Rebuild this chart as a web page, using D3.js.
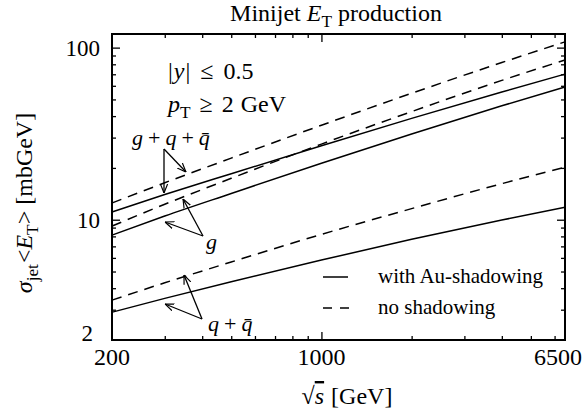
<!DOCTYPE html>
<html>
<head>
<meta charset="utf-8">
<script src="https://cdn.jsdelivr.net/npm/d3@7"></script>
<style>
  body { margin: 0; background: #fff; }
  text { font-family: "Liberation Serif", "DejaVu Serif", serif; fill: #000; }
</style>
</head>
<body>
<div id="chart"></div>
<script>
// sqrt(s) points in GeV
const roots = [200, 300, 500, 1000, 2000, 4000, 6500];

// sigma_jet <E_T> in mbGeV
const allNoShadow = [12.5, 16.4, 22.8, 35.4, 54.3, 81.9, 108];
const allShadow   = [11.1, 14.0, 18.5, 26.9, 38.8, 55.2, 70.2];
const gNoShadow   = [9.18, 12.3, 17.4, 27.5, 42.5, 64.5, 84.7];
const gShadow     = [8.14, 10.5, 14.2, 21.3, 31.5, 45.9, 59.0];
const qNoShadow   = [3.41, 4.30, 5.68, 8.22, 11.6, 16.2, 20.2];
const qShadow     = [2.90, 3.49, 4.36, 5.83, 7.69, 9.96, 11.8];

const xMajor = [200, 1000, 6500];
const xMinor = [300, 400, 500, 600, 700, 800, 900, 2000, 3000, 4000, 5000, 6000];
const yMajor = [2, 10, 100];
const yMinor = [3, 4, 5, 6, 7, 8, 9, 20, 30, 40, 50, 60, 70, 80, 90];

const W = 584, H = 415;
const mLeft = 112, mRight = 565, mTop = 34, mBottom = 340;

const svg = d3.select("#chart").append("svg")
  .attr("width", W).attr("height", H);

const x = d3.scaleLog().domain([200, 6500]).range([mLeft, mRight]);
const y = d3.scaleLog().domain([2, 120]).range([mBottom, mTop]);

// ticks, inside, on all four sides
function tickSet(axisFn, scale, vals, len, tx) {
  svg.append("g")
    .attr("transform", tx)
    .call(axisFn(scale).tickValues(vals).tickSize(len).tickFormat(""))
    .call(g => g.select(".domain").remove())
    .selectAll("line").attr("stroke", "#000").attr("stroke-width", 1.3);
}
tickSet(d3.axisTop, x, xMajor.slice(1, 2), 8, `translate(0,${mBottom})`);
tickSet(d3.axisTop, x, xMinor, 4, `translate(0,${mBottom})`);
tickSet(d3.axisBottom, x, xMajor.slice(1, 2), 8, `translate(0,${mTop})`);
tickSet(d3.axisBottom, x, xMinor, 4, `translate(0,${mTop})`);
tickSet(d3.axisRight, y, [10, 100], 8, `translate(${mLeft},0)`);
tickSet(d3.axisRight, y, yMinor, 4, `translate(${mLeft},0)`);
tickSet(d3.axisLeft, y, [10, 100], 8, `translate(${mRight},0)`);
tickSet(d3.axisLeft, y, yMinor, 4, `translate(${mRight},0)`);

// frame
svg.append("rect")
  .attr("x", mLeft).attr("y", mTop)
  .attr("width", mRight - mLeft).attr("height", mBottom - mTop)
  .attr("fill", "none").attr("stroke", "#000").attr("stroke-width", 2);

// tick labels
svg.selectAll(".xl").data(xMajor).enter().append("text")
  .attr("x", (d, i) => i == 2 ? 582 : x(d))
  .attr("y", 365)
  .attr("text-anchor", (d, i) => i == 2 ? "end" : "middle")
  .style("font-size", "24px")
  .text(d => d);
svg.selectAll(".yl").data(yMajor).enter().append("text")
  .attr("x", (d, i) => i == 0 ? 93 : 100)
  .attr("y", (d, i) => i == 0 ? 341 : y(d) + 8)
  .attr("text-anchor", "end")
  .style("font-size", "23px")
  .text(d => d);

// curves
const line = d3.line()
  .x((d, i) => x(roots[i]))
  .y(d => y(d))
  .curve(d3.curveMonotoneX);

const series = [
  { v: allNoShadow, dash: true },
  { v: allShadow, dash: false },
  { v: gNoShadow, dash: true },
  { v: gShadow, dash: false },
  { v: qNoShadow, dash: true },
  { v: qShadow, dash: false }
];
svg.selectAll(".curve").data(series).enter().append("path")
  .attr("d", d => line(d.v))
  .attr("fill", "none")
  .attr("stroke", "#000")
  .attr("stroke-width", 1.5)
  .attr("stroke-dasharray", d => d.dash ? "10,7" : null);

// arrows
svg.append("defs").append("marker")
  .attr("id", "ah").attr("viewBox", "0 0 10 10")
  .attr("refX", 10).attr("refY", 5)
  .attr("markerWidth", 9).attr("markerHeight", 9)
  .attr("markerUnits", "userSpaceOnUse")
  .attr("orient", "auto")
  .append("path").attr("d", "M0,1 L10,5 L0,9").attr("fill", "none")
  .attr("stroke", "#000").attr("stroke-width", 1.3);

const arrows = [
  [164, 149, 164, 193], [164, 149, 186, 172],
  [203, 236, 183, 199], [203, 236, 165, 222],
  [202, 319, 165, 304], [202, 319, 184, 275]
];
svg.selectAll(".arr").data(arrows).enter().append("line")
  .attr("x1", d => d[0]).attr("y1", d => d[1])
  .attr("x2", d => d[2]).attr("y2", d => d[3])
  .attr("stroke", "#000").attr("stroke-width", 1.3)
  .attr("marker-end", "url(#ah)");

// text helper: parts = [text, style, dx] where style: r roman, i italic, s subscript, o overline
function rich(px, py, parts, size, anchor, rot) {
  const t = svg.append("text")
    .attr("x", px).attr("y", py)
    .attr("text-anchor", anchor || "start")
    .style("font-size", size + "px");
  if (rot) t.attr("transform", `rotate(${rot},${px},${py})`);
  let sub = false;
  parts.forEach(([s, st, dx]) => {
    const sp = t.append("tspan").text(s);
    if (dx) sp.attr("dx", dx);
    if (st.includes("i")) sp.style("font-style", "italic");
    if (st.includes("o")) sp.style("text-decoration", "overline");
    if (st.includes("s")) {
      sp.style("font-size", (size * 0.72) + "px");
      if (!sub) sp.attr("dy", size * 0.25);
      sub = true;
    } else if (sub) {
      sp.attr("dy", -size * 0.25);
      sub = false;
    }
  });
  return t;
}

rich(336, 21, [["Minijet ", "r"], ["E", "i"], ["T", "s"], [" production", "r"]], 24, "middle");
rich(168, 79, [["|", "r"], ["y", "i", 1], ["|", "r", 1], ["\u2264", "r", 10], ["0.5", "r", 10]], 24);
rich(168, 112, [["p", "i"], ["T", "s"], ["\u2265", "r", 9], ["2", "r", 9], ["GeV", "r", 7]], 24);
rich(132, 145, [["g", "i"], ["+", "r", 5], ["q", "i", 5], ["+", "r", 5], ["q\u0304", "i", 5]], 22);
rich(206, 249, [["g", "i"]], 22);
rich(208, 331, [["q", "i"], ["+", "r", 5], ["q\u0304", "i", 5]], 22);

rich(32, 203, [["\u03c3", "i"], ["jet", "s"], ["<", "r", 1], ["E", "i"], ["T", "s"], [">", "r"], ["[mbGeV]", "r", 6]], 24, "middle", -90);
rich(347, 404, [["\u221a", "r"], ["s", "io"], ["[GeV]", "r", 7]], 24, "middle");

// legend
svg.append("line").attr("x1", 323).attr("x2", 348).attr("y1", 277).attr("y2", 277)
  .attr("stroke", "#000").attr("stroke-width", 1.5);
svg.append("line").attr("x1", 323).attr("x2", 350).attr("y1", 308).attr("y2", 308)
  .attr("stroke", "#000").attr("stroke-width", 1.5).attr("stroke-dasharray", "9,8");
rich(378, 283, [["with Au-shadowing", "r"]], 21);
rich(378, 314, [["no shadowing", "r"]], 21);
</script>
</body>
</html>
